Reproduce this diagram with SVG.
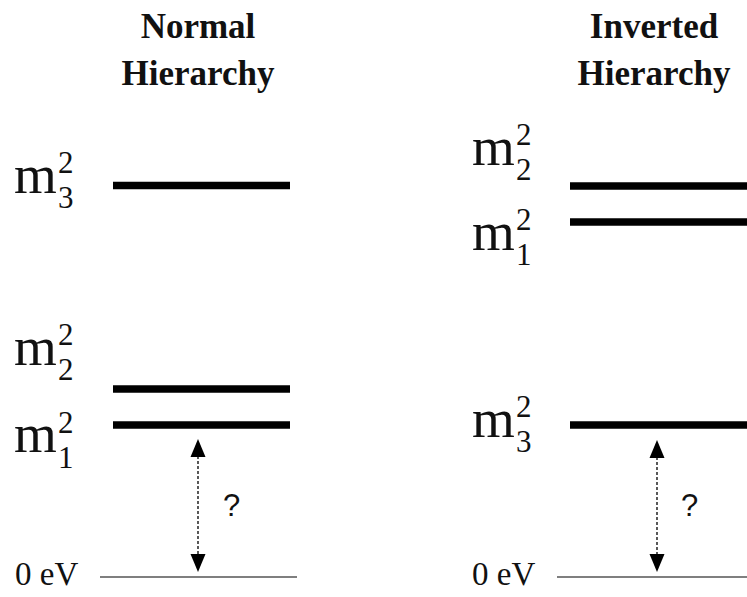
<svg xmlns="http://www.w3.org/2000/svg" width="747" height="597" viewBox="0 0 747 597">
<style>
.title{font-family:"Liberation Serif","Times New Roman",serif;font-weight:bold;font-size:35px;fill:#111;text-anchor:middle}
.m{font-family:"Liberation Serif","Times New Roman",serif;font-size:55px;fill:#111}
.s{font-family:"Liberation Serif","Times New Roman",serif;font-size:31px;fill:#111}
.ev{font-family:"Liberation Serif","Times New Roman",serif;font-size:33px;fill:#111}
.q{font-family:"Liberation Sans",Arial,sans-serif;font-size:31px;fill:#111}
.level{stroke:#000;stroke-width:7.5}
.zero{stroke:#555;stroke-width:1.5}
.gap{stroke:#000;stroke-width:1.3;stroke-dasharray:3 2;fill:none}
.head{fill:#000}
</style>
<rect width="747" height="597" fill="#fff"/>
<g id="title-normal"><text class="title" x="198" y="38">Normal</text><text class="title" x="198" y="85">Hierarchy</text></g>
<g id="title-inverted"><text class="title" x="654" y="38">Inverted</text><text class="title" x="654" y="85">Hierarchy</text></g>

<g id="normal-m3"><line class="level" x1="113" y1="185.5" x2="290" y2="185.5"/><text class="m" x="14" y="193">m</text><text class="s" x="58" y="173">2</text><text class="s" x="58" y="208">3</text></g>
<g id="normal-m2"><line class="level" x1="113" y1="389" x2="290" y2="389"/><text class="m" x="14" y="365">m</text><text class="s" x="58" y="345">2</text><text class="s" x="58" y="380">2</text></g>
<g id="normal-m1"><line class="level" x1="113" y1="425" x2="290" y2="425"/><text class="m" x="14" y="452">m</text><text class="s" x="58" y="433">2</text><text class="s" x="58" y="468">1</text></g>
<g id="normal-zero"><line class="zero" x1="100" y1="577" x2="297" y2="577"/><text class="ev" x="15" y="585">0 eV</text></g>

<g id="inverted-m2"><line class="level" x1="570" y1="186" x2="747" y2="186"/><text class="m" x="472" y="165">m</text><text class="s" x="516" y="145">2</text><text class="s" x="516" y="180">2</text></g>
<g id="inverted-m1"><line class="level" x1="570" y1="222" x2="747" y2="222"/><text class="m" x="472" y="250">m</text><text class="s" x="516" y="230">2</text><text class="s" x="516" y="265">1</text></g>
<g id="inverted-m3"><line class="level" x1="570" y1="425" x2="747" y2="425"/><text class="m" x="472" y="437">m</text><text class="s" x="516" y="417">2</text><text class="s" x="516" y="452">3</text></g>
<g id="inverted-zero"><line class="zero" x1="557" y1="577" x2="747" y2="577"/><text class="ev" x="472" y="585">0 eV</text></g>

<g id="connectors">
<line class="gap" x1="198" y1="456" x2="198" y2="555"/>
<polygon class="head" points="198,439 190.5,457 205.5,457"/>
<polygon class="head" points="198,572 190.5,554 205.5,554"/>
<text class="q" x="223" y="516">?</text>
<line class="gap" x1="657" y1="457" x2="657" y2="555"/>
<polygon class="head" points="657,440 649.5,458 664.5,458"/>
<polygon class="head" points="657,572 649.5,554 664.5,554"/>
<text class="q" x="681" y="516">?</text>
</g>
</svg>
